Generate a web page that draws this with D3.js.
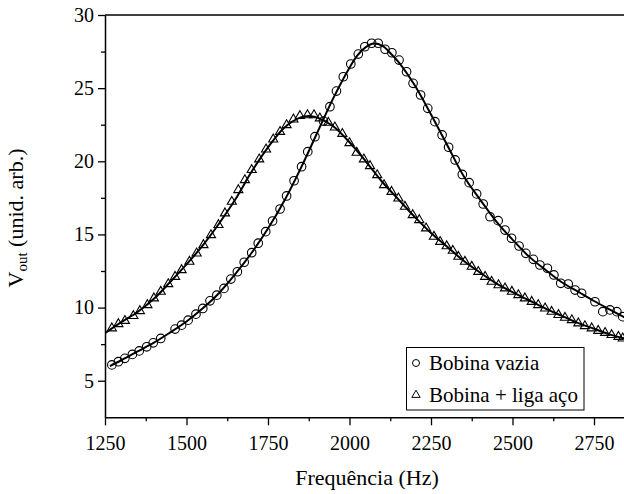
<!DOCTYPE html>
<meta charset="utf-8">
<html>
    <head>
        <style type="text/css">
            body { margin:0; background:#fff; }
            svg { display:block; }
        </style>
        <script src="https://d3js.org/d3.v7.min.js"></script>
    </head>
    <body>
        <svg width="624" height="494"></svg>
        <script type="text/javascript">
            // tick labels
            var xTicks = [1250, 1500, 1750, 2000, 2250, 2500, 2750];
            var yTicks = [5, 10, 15, 20, 25, 30];

            // Bobina vazia (circles)
            var vaziaFreq = [1271, 1291, 1311, 1334, 1355, 1378, 1398, 1421, 1465, 1485, 1505, 1529, 1550, 1572, 1593, 1615,
                1636, 1656, 1677, 1700, 1720, 1743, 1764, 1787, 1807, 1830, 1853, 1872, 1894, 1920, 1940, 1960, 1981,
                2004, 2027, 2047, 2068, 2088, 2109, 2130, 2152, 2175, 2195, 2218, 2240, 2262, 2284, 2304, 2324, 2346,
                2367, 2390, 2410, 2431, 2456, 2477, 2497, 2520, 2541, 2564, 2584, 2607, 2627, 2648, 2671, 2692, 2712,
                2753, 2777, 2799, 2820, 2838];
            var vaziaVout = [6.08, 6.30, 6.53, 6.80, 7.04, 7.32, 7.59, 7.89, 8.53, 8.80, 9.14, 9.55, 9.94, 10.46, 10.85, 11.31,
                11.95, 12.45, 13.10, 13.75, 14.40, 15.19, 15.92, 16.74, 17.63, 18.67, 19.63, 20.66, 21.68, 22.75, 23.73, 24.80, 25.78,
                26.65, 27.33, 27.83, 28.07, 28.07, 27.66, 27.42, 26.92, 26.12, 25.33, 24.53, 23.62, 22.71, 21.80, 20.96, 20.09, 19.10,
                18.54, 17.77, 17.08, 16.21, 15.94, 15.30, 14.74, 14.21, 13.71, 13.30, 12.91, 12.69, 12.23, 11.66, 11.61, 11.20, 10.98,
                10.40, 9.72, 9.84, 9.72, 9.38];

            // Bobina + liga aço (triangles)
            var ligaFreq = [1271, 1291, 1311, 1337, 1357, 1380, 1400, 1421, 1444, 1465, 1485, 1509, 1531, 1552, 1575, 1598,
                1618, 1639, 1659, 1679, 1700, 1723, 1744, 1766, 1787, 1807, 1828, 1848, 1871, 1891, 1909, 1935, 1955,
                1978, 2000, 2022, 2044, 2063, 2085, 2106, 2129, 2150, 2170, 2194, 2214, 2235, 2259, 2278, 2298, 2317,
                2334, 2354, 2375, 2395, 2416, 2436, 2457, 2477, 2498, 2518, 2538, 2559, 2579, 2600, 2620, 2641, 2661,
                2682, 2702, 2722, 2743, 2763, 2784, 2804, 2825, 2838];
            var ligaVout = [8.59, 8.88, 9.10, 9.43, 9.77, 10.18, 10.64, 11.09, 11.61, 12.11, 12.57, 13.14, 13.71, 14.28, 14.96, 15.65,
                16.45, 17.24, 18.04, 18.72, 19.41, 20.14, 20.82, 21.50, 22.02, 22.48, 22.87, 23.10, 23.16, 23.16, 22.94, 22.64, 22.32,
                21.88, 21.25, 20.59, 20.14, 19.68, 19.06, 18.38, 17.92, 17.47, 16.90, 16.33, 15.99, 15.42, 14.85, 14.50, 14.20, 13.89,
                13.48, 13.14, 12.80, 12.45, 12.11, 11.77, 11.54, 11.32, 11.09, 10.86, 10.64, 10.40, 10.18, 9.95, 9.72, 9.50, 9.31,
                9.15, 8.93, 8.74, 8.59, 8.42, 8.28, 8.13, 8.01, 7.90];

            // fitted curves
            var fitVaziaFreq = [1265, 1300, 1350, 1400, 1450, 1500, 1550, 1600, 1650, 1700, 1750, 1800, 1850, 1900, 1950, 2000,
                2025, 2050, 2075, 2100, 2125, 2150, 2200, 2250, 2300, 2350, 2400, 2450, 2500, 2550, 2600, 2650, 2700,
                2750, 2800, 2850];
            var fitVaziaVout = [6.0, 6.4, 7.0, 7.6, 8.3, 9.05, 9.95, 11.0, 12.3, 13.75, 15.4, 17.3, 19.5, 21.9, 24.3, 26.4,
                27.25, 27.8, 28.05, 27.9, 27.4, 26.8, 25.2, 23.2, 21.1, 19.0, 17.4, 15.9, 14.65, 13.5, 12.6, 11.75, 11.1,
                10.45, 9.85, 9.25];
            var fitLigaFreq = [1250, 1300, 1350, 1400, 1450, 1500, 1550, 1600, 1650, 1700, 1750, 1800, 1850, 1875, 1900, 1950,
                2000, 2050, 2100, 2150, 2200, 2250, 2300, 2350, 2400, 2450, 2500, 2550, 2600, 2650, 2700, 2750, 2800, 2850];
            var fitLigaVout = [8.25, 9.0, 9.7, 10.6, 11.75, 12.95, 14.25, 15.75, 17.4, 19.3, 20.95, 22.3, 23.0, 23.1, 23.0, 22.4,
                21.3, 20.0, 18.6, 17.4, 16.2, 15.1, 14.15, 13.2, 12.4, 11.65, 11.05, 10.5, 9.95, 9.45, 8.95, 8.55, 8.15, 7.85];

            var legendNames = ["Bobina vazia", "Bobina + liga aço"];

            var serif = "'Liberation Serif', 'Times New Roman', serif";
            var svg = d3.select("svg");
            var plot = {left: 105, right: 626.6, top: 15, bottom: 417.3};

            var xScale = d3.scaleLinear().domain([1250, 2850]).range([plot.left, plot.right]);
            var yScale = d3.scaleLinear().domain([2.5, 30]).range([plot.bottom, plot.top]);

            var zip = (xs, ys) => xs.map((x, i) => [x, ys[i]]);

            // frame top line
            svg.append("line")
                .attr("x1", plot.left).attr("x2", plot.right)
                .attr("y1", plot.top).attr("y2", plot.top)
                .attr("stroke", "black").attr("stroke-width", 1.5);

            // minor ticks
            var xMinor = d3.range(1375, 2850, 250);
            var yMinor = d3.range(7.5, 30, 5);
            svg.append("g")
                .attr("transform", "translate(" + [0, plot.bottom] + ")")
                .call(d3.axisBottom(xScale).tickValues(xMinor).tickSize(4).tickSizeOuter(0).tickFormat(""))
                .call(g => g.select(".domain").remove());
            svg.append("g")
                .attr("transform", "translate(" + [plot.left, 0] + ")")
                .call(d3.axisLeft(yScale).tickValues(yMinor).tickSize(4).tickSizeOuter(0).tickFormat(""))
                .call(g => g.select(".domain").remove());

            svg.append("g")
                .attr("transform", "translate(" + [0, plot.bottom] + ")")
                .call(d3.axisBottom(xScale).tickValues(xTicks).tickFormat(d3.format("d"))
                    .tickSize(8).tickSizeOuter(0).tickPadding(11));
            svg.append("g")
                .attr("transform", "translate(" + [plot.left, 0] + ")")
                .call(d3.axisLeft(yScale).tickValues(yTicks).tickFormat(d3.format("d"))
                    .tickSize(7).tickSizeOuter(0).tickPadding(4));

            svg.selectAll(".tick line").attr("stroke-width", 1.3);
            svg.selectAll(".domain").attr("stroke-width", 1.5);
            svg.selectAll(".tick text")
                .style("font-family", serif)
                .style("font-size", "20px")
                .attr("fill", "black");

            // fitted lines
            var line = d3.line()
                .x(d => xScale(d[0]))
                .y(d => yScale(d[1]))
                .curve(d3.curveCatmullRom);

            svg.append("clipPath").attr("id", "clip")
                .append("rect")
                .attr("x", plot.left).attr("y", plot.top)
                .attr("width", plot.right - plot.left).attr("height", plot.bottom - plot.top);

            var plotG = svg.append("g").attr("clip-path", "url(#clip)");

            plotG.append("path")
                .datum(zip(fitVaziaFreq, fitVaziaVout))
                .attr("d", line)
                .attr("fill", "none").attr("stroke", "black").attr("stroke-width", 2);
            plotG.append("path")
                .datum(zip(fitLigaFreq, fitLigaVout))
                .attr("d", line)
                .attr("fill", "none").attr("stroke", "black").attr("stroke-width", 2);

            // markers
            plotG.selectAll("circle.vazia")
                .data(zip(vaziaFreq, vaziaVout))
                .enter().append("circle")
                .attr("class", "vazia")
                .attr("cx", d => xScale(d[0]))
                .attr("cy", d => yScale(d[1]))
                .attr("r", 4.3)
                .attr("fill", "none").attr("stroke", "black").attr("stroke-width", 1.1);

            var tri = d3.symbol().type(d3.symbolTriangle).size(36);
            plotG.selectAll("path.liga")
                .data(zip(ligaFreq, ligaVout))
                .enter().append("path")
                .attr("class", "liga")
                .attr("d", tri)
                .attr("transform", d => "translate(" + [xScale(d[0]), yScale(d[1])] + ")")
                .attr("fill", "none").attr("stroke", "black").attr("stroke-width", 1.1);

            // legend
            var legend = svg.append("g");
            legend.append("rect")
                .attr("x", 406.5).attr("y", 347.5)
                .attr("width", 177.5).attr("height", 62.5)
                .attr("fill", "white").attr("stroke", "black").attr("stroke-width", 1);
            legend.append("circle")
                .attr("cx", 416).attr("cy", 363).attr("r", 3.5)
                .attr("fill", "none").attr("stroke", "black").attr("stroke-width", 1);
            legend.append("path")
                .attr("d", d3.symbol().type(d3.symbolTriangle).size(30))
                .attr("transform", "translate(416,395)")
                .attr("fill", "none").attr("stroke", "black").attr("stroke-width", 1);
            legend.selectAll("text")
                .data(legendNames)
                .enter().append("text")
                .attr("x", 429)
                .attr("y", (d, i) => 370 + i * 32)
                .style("font-family", serif)
                .style("font-size", "21px")
                .text(d => d);

            // axis titles
            svg.append("text")
                .attr("x", 367)
                .attr("y", 485)
                .style("font-family", serif)
                .style("font-size", "22px")
                .style("text-anchor", "middle")
                .text("Frequência (Hz)");

            var yTitle = svg.append("text")
                .attr("transform", "translate(23,218) rotate(-90)")
                .style("font-family", serif)
                .style("font-size", "22px")
                .style("text-anchor", "middle");
            yTitle.append("tspan").text("V");
            yTitle.append("tspan").style("font-size", "15px").attr("dy", 4).text("out");
            yTitle.append("tspan").attr("dy", -4).text(" (unid. arb.)");
        </script>
    </body>
</html>
